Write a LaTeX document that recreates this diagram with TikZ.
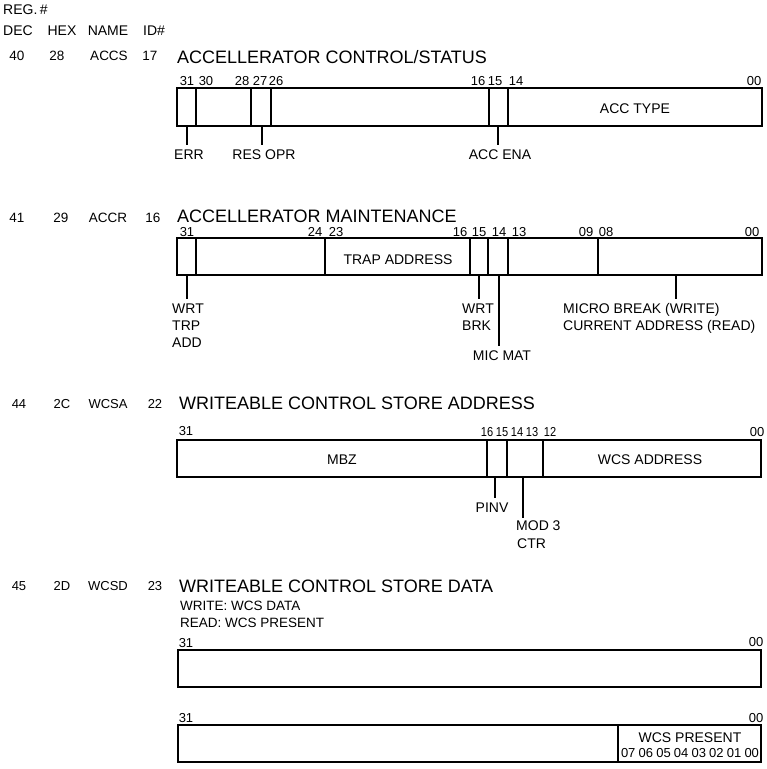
\documentclass[tikz,border=0pt]{standalone}
\usepackage{fontspec}
\setmainfont{Liberation Sans}
\newfontfamily\condsans[FakeStretch=0.85]{Liberation Sans}
\begin{document}
\begin{tikzpicture}[x=1pt,y=-1pt,
  lbl/.style={font=\fontsize{14}{16}\selectfont, inner sep=0pt, anchor=base},
  lbll/.style={lbl, anchor=base west},
  bitn/.style={font=\fontsize{13}{15}\selectfont, inner sep=0pt, anchor=base},
  bits/.style={font=\condsans\fontsize{13}{15}\selectfont, inner sep=0pt, anchor=base},
  rowl/.style={font=\fontsize{13.5}{15}\selectfont, inner sep=0pt, anchor=base},
  rows/.style={font=\fontsize{13}{15}\selectfont, inner sep=0pt, anchor=base},
  ttl/.style={font=\fontsize{18}{20}\selectfont, inner sep=0pt, anchor=base west},
  regbox/.style={draw, line width=1.8pt},
  divider/.style={draw, line width=1.3pt},
  lead/.style={draw, line width=1.3pt, shorten >=4pt}]
\useasboundingbox (0,0) rectangle (767,769);

% ---------- header ----------
\node[lbll] (reg) at (3,14) {REG.\,\#};
\node[lbl] (hdec) at (18,35) {DEC};
\node[lbl] (hhex) at (62,35) {HEX};
\node[lbl] (hname) at (108,35) {NAME};
\node[lbl] (hid) at (154,35) {ID\#};

% ---------- register 1 : ACCS ----------
\node[rowl] (r1dec) at (17,60) {40};
\node[rowl] (r1hex) at (57,60) {28};
\node[rowl] (r1nam) at (109,60) {ACCS};
\node[rowl] (r1id) at (150,60) {17};
\node[ttl] (r1t) at (177,63) {ACCELLERATOR CONTROL/STATUS};
\foreach \x/\t in {187/31,206/30,242/28,260/27,276/26,478/16,495/15,516/14,754/00}
  \node[bitn] at (\x,85) {\t};
\coordinate (b1nw) at (177,88);
\coordinate (b1se) at (762,126);
\draw[regbox] (b1nw) rectangle (b1se);
\foreach \x in {196,251,271,489,508}
  \draw[divider] (\x,88) -- (\x,126);
\node[lbl] (acctype) at (635,113) {ACC TYPE};
\node[lbl] (err) at (189,159) {ERR};
\node[lbl] (resopr) at (264,159) {RES OPR};
\node[lbl] (accena) at (500,159) {ACC ENA};
\coordinate (errtop) at (187,126);
\coordinate (restop) at (262,126);
\coordinate (enatop) at (498,126);
\draw[lead] (errtop) -- (errtop |- err.north);
\draw[lead] (restop) -- (restop |- resopr.north);
\draw[lead] (enatop) -- (enatop |- accena.north);

% ---------- register 2 : ACCR ----------
\node[rowl] (r2dec) at (17,222) {41};
\node[rowl] (r2hex) at (61,222) {29};
\node[rowl] (r2nam) at (108,222) {ACCR};
\node[rowl] (r2id) at (153,222) {16};
\node[ttl] (r2t) at (177,222.5) {ACCELLERATOR MAINTENANCE};
\foreach \x/\t in {187/31,315/24,336/23,460/16,479/15,499/14,519/13,586/09,606/08,752/00}
  \node[bitn] at (\x,236.5) {\t};
\coordinate (b2nw) at (177,238);
\coordinate (b2se) at (762,275);
\draw[regbox] (b2nw) rectangle (b2se);
\foreach \x in {196,325,470,488,508,598}
  \draw[divider] (\x,238) -- (\x,275);
\node[lbl] (trap) at (398,264) {TRAP ADDRESS};
\node[lbll] (wrt1) at (172,313) {WRT};
\node[lbll] (trp1) at (172,330) {TRP};
\node[lbll] (add1) at (172,347) {ADD};
\node[lbll] (wrt2) at (462,313) {WRT};
\node[lbll] (brk2) at (462,330) {BRK};
\node[lbl] (micmat) at (502,360) {MIC MAT};
\node[lbll] (micro) at (563,313) {MICRO BREAK (WRITE)};
\node[lbll] (curr) at (563,330) {CURRENT ADDRESS (READ)};
\coordinate (wtatop) at (187,275);
\coordinate (wbrtop) at (479,275);
\coordinate (mictop) at (499,275);
\coordinate (mbrtop) at (676,275);
\draw[lead] (wtatop) -- (wtatop |- wrt1.north);
\draw[lead] (wbrtop) -- (wbrtop |- wrt2.north);
\draw[lead] (mictop) -- (mictop |- micmat.north);
\draw[lead] (mbrtop) -- (mbrtop |- micro.north);

% ---------- register 3 : WCSA ----------
\node[rows] (r3dec) at (19,408) {44};
\node[rows] (r3hex) at (62,408) {2C};
\node[rows] (r3nam) at (108,408) {WCSA};
\node[rows] (r3id) at (155,408) {22};
\node[ttl] (r3t) at (179,409) {WRITEABLE CONTROL STORE ADDRESS};
\node[bitn] at (186,435) {31};
\foreach \x/\t in {487/16,502/15,517/14,532/13,550/12}
  \node[bits] at (\x,436) {\t};
\node[bitn] at (757,436) {00};
\coordinate (b3nw) at (177,440);
\coordinate (b3se) at (761,477);
\draw[regbox] (b3nw) rectangle (b3se);
\foreach \x in {487,507,543}
  \draw[divider] (\x,440) -- (\x,477);
\node[lbl] (mbz) at (342,464) {MBZ};
\node[lbl] (wcsaddr) at (650,464) {WCS ADDRESS};
\node[lbl] (pinv) at (492,512) {PINV};
\node[lbll] (mod3) at (516,530) {MOD 3};
\node[lbll] (ctr) at (517,548) {CTR};
\coordinate (pinvtop) at (495,477);
\coordinate (modtop) at (523,477);
\draw[lead] (pinvtop) -- (pinvtop |- pinv.north);
\draw[lead, shorten >=2pt] (modtop) -- (modtop |- mod3.north);

% ---------- register 4 : WCSD ----------
\node[rows] (r4dec) at (19,590) {45};
\node[rows] (r4hex) at (62,590) {2D};
\node[rows] (r4nam) at (108,590) {WCSD};
\node[rows] (r4id) at (155,590) {23};
\node[ttl] (r4t) at (179,592) {WRITEABLE CONTROL STORE DATA};
\node[lbll, font=\fontsize{13.5}{15}\selectfont] (wdata) at (180,610) {WRITE: WCS DATA};
\node[lbll, font=\fontsize{13.5}{15}\selectfont] (rpres) at (180,627) {READ: WCS PRESENT};
\node[bitn] at (186,647) {31};
\node[bitn] at (756,646) {00};
\coordinate (b4nw) at (178,650);
\coordinate (b4se) at (761,687);
\draw[regbox] (b4nw) rectangle (b4se);
\node[bitn] at (186,722) {31};
\node[bitn] at (756,722) {00};
\coordinate (b5nw) at (178,725);
\coordinate (b5se) at (761,762);
\draw[regbox] (b5nw) rectangle (b5se);
\draw[divider] (618,725) -- (618,762);
\node[lbl] (wcspres) at (690,742) {WCS PRESENT};
\node[bitn] (wcsbits) at (690,757) {\makebox[138pt][s]{07\hfill 06\hfill 05\hfill 04\hfill 03\hfill 02\hfill 01\hfill 00}};
\end{tikzpicture}
\end{document}
